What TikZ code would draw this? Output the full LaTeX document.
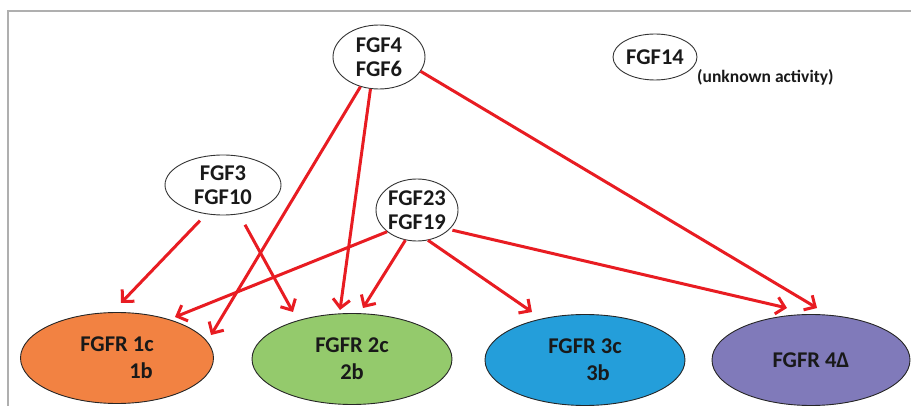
\documentclass[tikz,border=0pt]{standalone}
\usepackage{fontspec}
\setmainfont{Carlito}
\usetikzlibrary{shapes.geometric,arrows.meta}
\definecolor{arrred}{RGB}{232,28,34}
\definecolor{recorange}{RGB}{242,130,66}
\definecolor{recgreen}{RGB}{148,202,108}
\definecolor{recblue}{RGB}{36,158,218}
\definecolor{recpurple}{RGB}{128,122,186}
\definecolor{framegray}{RGB}{175,175,175}
\begin{document}
\begin{tikzpicture}[x=1pt,y=-1pt,
  src/.style={ellipse,draw=black!80,line width=0.9pt,inner sep=0pt,align=center,text=black!90,
    font=\fontsize{22.5}{24}\selectfont\bfseries},
  rec/.style={ellipse,draw=black!85,line width=0.9pt,inner sep=0pt,minimum width=200pt,
    minimum height=91pt,align=center,text=black!90,font=\fontsize{22.5}{27}\selectfont\bfseries},
  arr/.style={draw=arrred,line width=3pt,-{Straight Barb[length=8.5pt,width=17pt]}}]
\useasboundingbox (0,0) rectangle (911,406);
\draw[framegray,line width=2pt] (8,406) -- (8,11) -- (911,11);

% source nodes
\node[src,minimum width=92pt,minimum height=64pt] (f46) at (379,57) {FGF4\\FGF6};
\node[src,minimum width=84pt,minimum height=46pt] (f14) at (655,57) {FGF14};
\node[anchor=west,inner sep=0pt,text=black!90,font=\fontsize{17.5}{20}\selectfont\bfseries] (unk) at (697,77) {(unknown activity)};
\node[src,minimum width=116pt,minimum height=60pt] (f310) at (223,185) {FGF3\\FGF10};
\node[src,minimum width=82pt,minimum height=62pt] (f2319) at (417,210) {FGF23\\FGF19};

% receptor nodes
\node[rec,fill=recorange,minimum width=193pt] (r1) at (117,358) {FGFR 1c\\\hspace*{48pt}1b};
\node[rec,fill=recgreen] (r2) at (352,359) {FGFR 2c\\2b};
\node[rec,fill=recblue] (r3) at (585,360) {FGFR 3c\\\hspace*{26pt}3b};
\node[rec,fill=recpurple,minimum width=198pt] (r4) at (811,360) {FGFR 4Δ};

% arrow tips
\coordinate (t1) at (121,303);
\coordinate (t2) at (293,312);
\coordinate (t3) at (211,335);
\coordinate (t4) at (340,310);
\coordinate (t5) at (817,308);
\coordinate (t6) at (175,317);
\coordinate (t7) at (363,308);
\coordinate (t8) at (532,312);
\coordinate (t9) at (787,308);

% arrows
\draw[arr,shorten <=9pt] (f310.240) -- (t1);
\draw[arr,shorten <=12pt] (f310.299) -- (t2);
\draw[arr] (f46.238) -- (t3);
\draw[arr] (f46.255) -- (t4);
\draw[arr] (f46.341) -- (t5);
\draw[arr] (f2319.216) -- (t6);
\draw[arr] (f2319.249) -- (t7);
\draw[arr] (f2319.290) -- (t8);
\draw[arr,shorten <=3pt] (f2319.329) -- (t9);
\end{tikzpicture}
\end{document}
